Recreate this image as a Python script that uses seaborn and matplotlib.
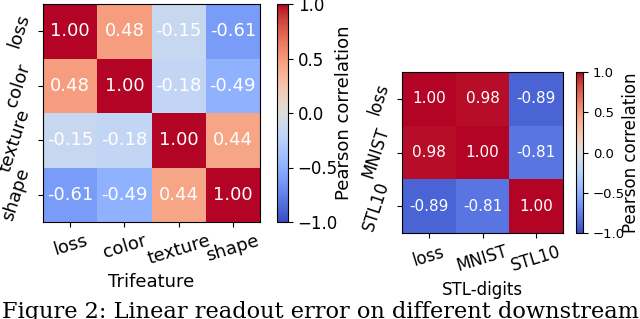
import matplotlib
matplotlib.use('Agg')
import matplotlib.pyplot as plt
import seaborn as sns
import numpy as np

tri_labels = ['loss', 'color', 'texture', 'shape']
tri_vals = [[1.00, 0.48, -0.15, -0.61],
            [0.48, 1.00, -0.18, -0.49],
            [-0.15, -0.18, 1.00, 0.44],
            [-0.61, -0.49, 0.44, 1.00]]

stl_labels = ['loss', 'MNIST', 'STL10']
stl_vals = [[1.00, 0.98, -0.89],
            [0.98, 1.00, -0.81],
            [-0.89, -0.81, 1.00]]

caption = 'Figure 2: Linear readout error on different downstream tasks'

W, H = 640, 319


def box(x0, y0, x1, y1):
    return [x0 / W, 1 - y1 / H, (x1 - x0) / W, (y1 - y0) / H]


fig = plt.figure(figsize=(6.4, 3.19), dpi=100)


def draw(ax, cax, vals, labels, xlabel, fs, label_xy):
    annot_fs, xtick_fs, ytick_fs, cbar_fs, xlabel_fs, clabel_fs = fs
    sns.heatmap(np.array(vals), ax=ax, cbar_ax=cax, cmap='coolwarm', vmin=-1, vmax=1,
                annot=True, fmt='.2f', annot_kws={'color': 'white', 'fontsize': annot_fs},
                xticklabels=labels, yticklabels=labels,
                cbar_kws={'ticks': [-1, -0.5, 0, 0.5, 1]})
    for s in ax.spines.values():
        s.set_visible(True)
        s.set_color('black')
        s.set_linewidth(0.8)
    ax.tick_params(length=3.5, width=0.8)
    ax.tick_params(axis='x', labelsize=xtick_fs)
    ax.tick_params(axis='y', labelsize=ytick_fs)
    plt.setp(ax.get_xticklabels(), rotation=17)
    plt.setp(ax.get_yticklabels(), rotation=72, va='center')
    ax.set_xlabel(xlabel, fontsize=xlabel_fs)
    cb = ax.collections[0].colorbar
    cax.tick_params(labelsize=cbar_fs, length=3.5, width=0.8)
    cb.set_ticklabels(['\u22121.0', '\u22120.5', '0.0', '0.5', '1.0'])
    cb.set_label('Pearson correlation', fontsize=clabel_fs)
    cax.yaxis.set_label_coords(*label_xy)
    cb.outline.set_visible(True)
    cb.outline.set_edgecolor('black')
    cb.outline.set_linewidth(0.8)


ax1 = fig.add_axes(box(43, 4, 260, 222))
cax1 = fig.add_axes(box(277, 4, 288, 222))
draw(ax1, cax1, tri_vals, tri_labels, 'Trifeature',
     (13, 13, 13, 12, 13, 13), (5.27, 0.5))

ax2 = fig.add_axes(box(402, 72, 563, 233))
cax2 = fig.add_axes(box(576, 72, 583, 233))
draw(ax2, cax2, stl_vals, stl_labels, 'STL-digits',
     (11, 12, 12, 9.5, 12, 12), (6.6, 0.5))

fig.text(0.003, 1 / H, caption, family='DejaVu Serif', fontsize=16.2,
         ha='left', va='baseline')

fig.savefig('out.png', dpi=100)
